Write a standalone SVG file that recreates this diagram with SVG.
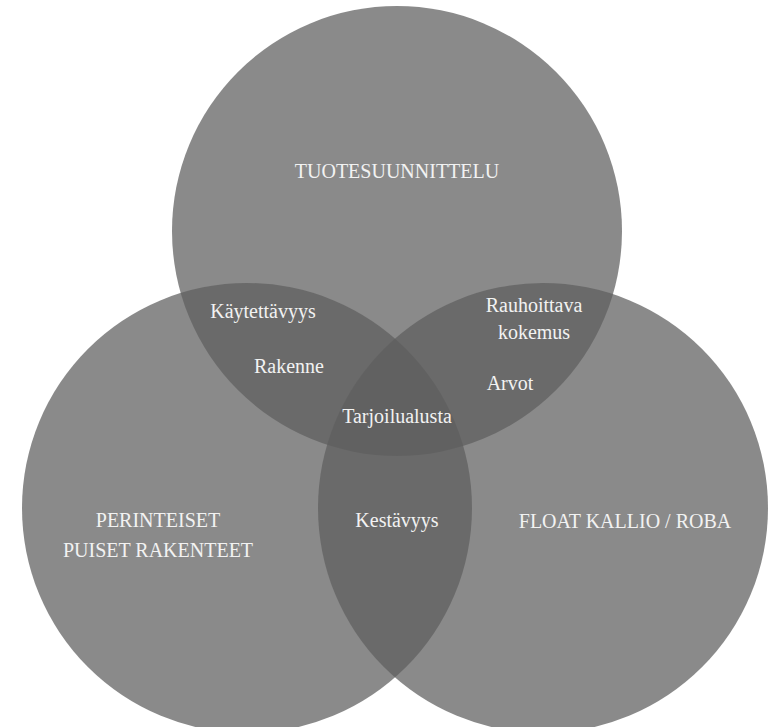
<svg xmlns="http://www.w3.org/2000/svg" width="777" height="727" viewBox="0 0 777 727">
<style>
.c{fill:#5e5e5e;fill-opacity:0.73}
text{font-family:"Liberation Serif","DejaVu Serif",serif;font-size:20px;fill:#f2f2f2;text-anchor:middle}
</style>
<rect width="777" height="727" fill="#ffffff"/>
<g id="tuotesuunnittelu">
<circle class="c" cx="397" cy="231" r="225"/>
<text x="397" y="178">TUOTESUUNNITTELU</text>
</g>
<g id="perinteiset">
<circle class="c" cx="247" cy="508" r="225"/>
<text x="158" y="527">PERINTEISET</text>
<text x="158" y="557">PUISET RAKENTEET</text>
</g>
<g id="float">
<circle class="c" cx="543" cy="508" r="225"/>
<text x="625" y="528">FLOAT KALLIO / ROBA</text>
</g>
<g id="overlaps">
<text x="263" y="318">Käytettävyys</text>
<text x="289" y="373">Rakenne</text>
<text x="534" y="312">Rauhoittava</text>
<text x="534" y="339">kokemus</text>
<text x="510" y="390">Arvot</text>
<text x="397" y="423">Tarjoilualusta</text>
<text x="397" y="527">Kestävyys</text>
</g>
<g id="connectors"></g>
</svg>
